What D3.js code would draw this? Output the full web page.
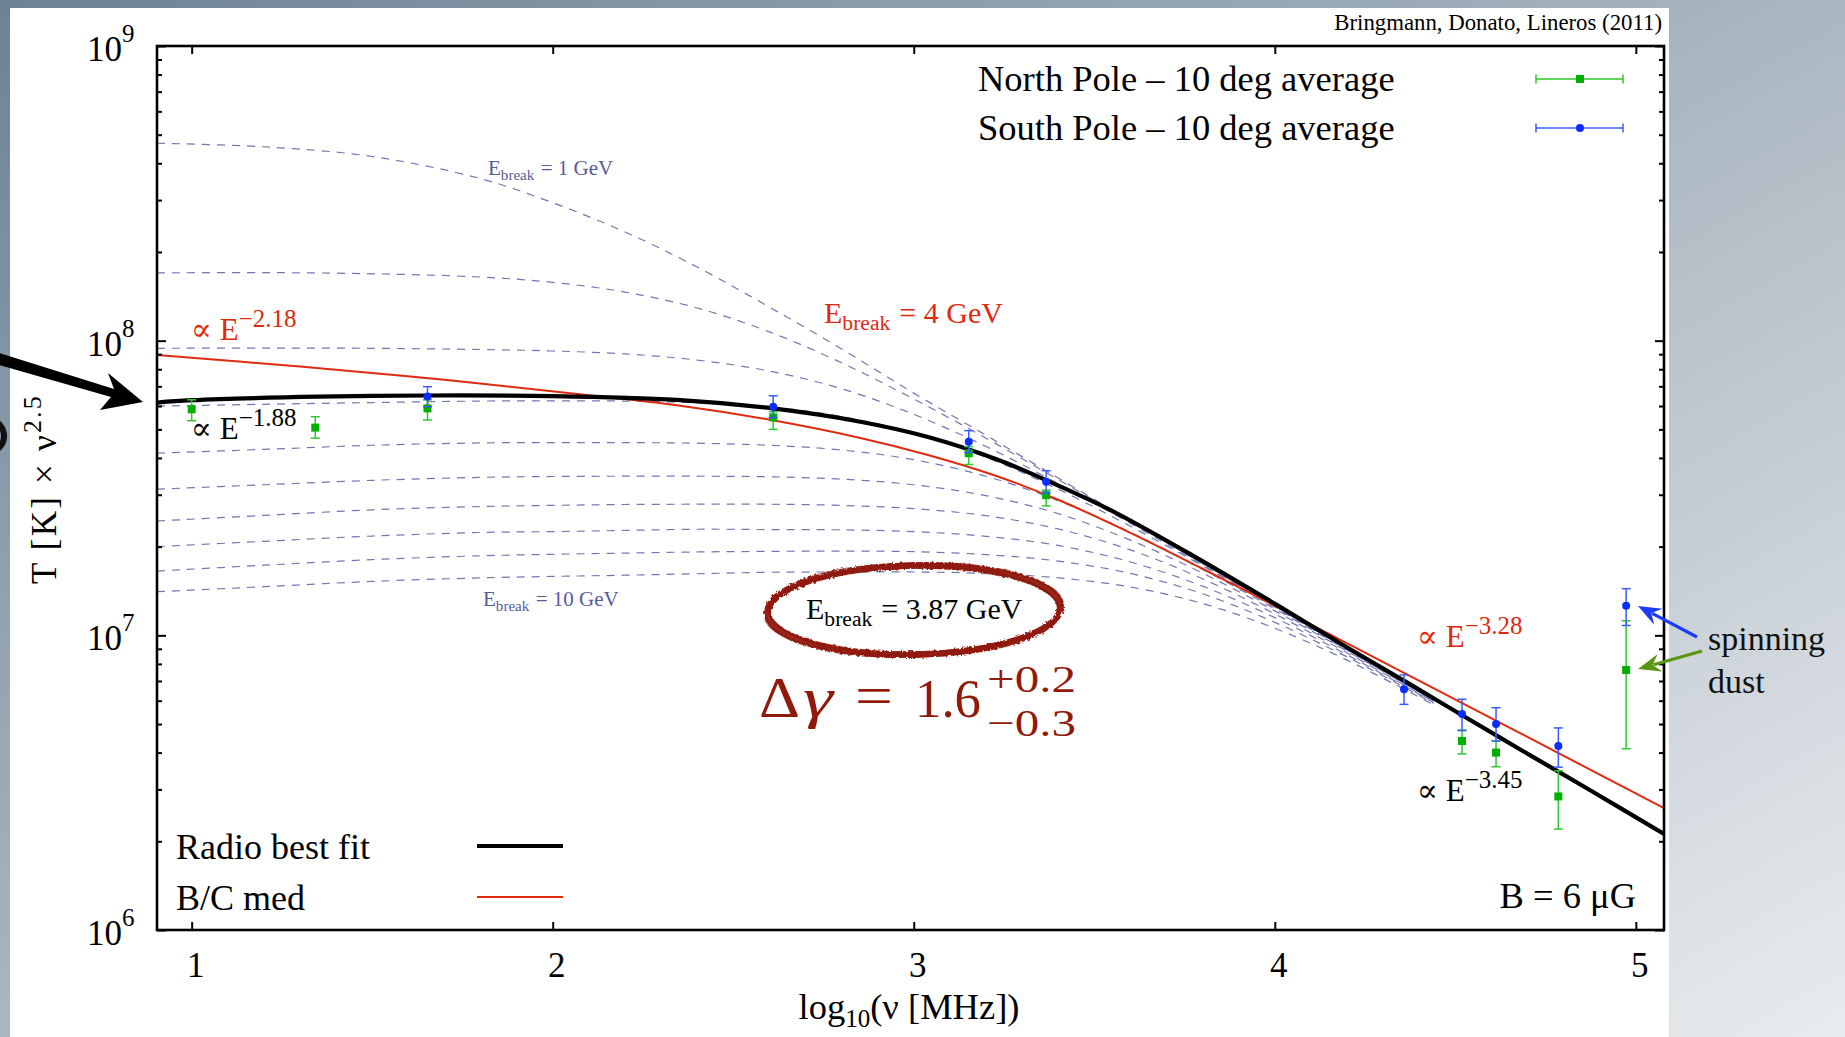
<!DOCTYPE html>
<html>
<head>
<meta charset="utf-8">
<script src="https://cdn.jsdelivr.net/npm/d3@7"></script>
<style>
  html, body { margin: 0; padding: 0; overflow: hidden; background: #fff; }
  svg text { font-family: 'Liberation Serif', 'DejaVu Serif', serif; }
</style>
</head>
<body>
<svg id="chart" width="1845" height="1037"></svg>
<script>
// ---------------- data ----------------
// Synchrotron sky temperature near the Galactic poles, T [K] x nu^2.5
const northFreqMHz = [10, 22, 45, 408, 1420, 2326, 33000, 41000, 61000, 94000];
const northT  = [5.85e7, 5.07e7, 5.89e7, 5.49e7, 4.15e7, 2.99e7, 4.38e6, 4.0e6, 2.84e6, 7.63e6];
const northLo = [5.35e7, 4.67e7, 5.38e7, 5.0e7, 3.80e7, 2.75e7, 3.96e6, 3.58e6, 2.20e6, 4.12e6];
const northHi = [6.30e7, 5.52e7, 6.30e7, 5.74e7, 4.37e7, 3.11e7, 4.77e6, 4.38e6, 3.47e6, 1.12e7];

const southFreqMHz = [45, 408, 1420, 2326, 22800, 33000, 41000, 61000, 94000];
const southT  = [6.46e7, 5.97e7, 4.54e7, 3.32e7, 6.56e6, 5.41e6, 5.0e6, 4.21e6, 1.26e7];
const southLo = [5.97e7, 5.48e7, 4.17e7, 3.04e7, 5.83e6, 4.75e6, 4.38e6, 3.57e6, 1.08e7];
const southHi = [6.98e7, 6.50e7, 4.95e7, 3.62e7, 7.34e6, 6.07e6, 5.68e6, 4.85e6, 1.44e7];

// Radio best fit (log10 nu [MHz], log10 of T x nu^2.5)
const bestFitX    = [0.904, 1.0, 1.35, 1.65, 2.0, 2.344, 2.609, 2.852, 3.037, 3.231, 3.36, 3.545, 3.785, 4.01, 4.21, 4.38, 4.52, 4.71, 4.87, 5.078];
const bestFitLogT = [7.790, 7.798, 7.810, 7.814, 7.812, 7.799, 7.770, 7.725, 7.674, 7.597, 7.530, 7.425, 7.262, 7.100, 6.952, 6.830, 6.728, 6.591, 6.477, 6.326];

// B/C med propagation model
const bcMedX    = [0.904, 1.3, 1.7, 2.1, 2.344, 2.609, 2.852, 3.037, 3.231, 3.40, 3.6, 3.8, 4.01, 4.21, 5.078];
const bcMedLogT = [7.951, 7.912, 7.867, 7.815, 7.781, 7.730, 7.670, 7.613, 7.540, 7.460, 7.348, 7.226, 7.094, 6.967, 6.414];

// Family of spectra for E_break = 1 ... 10 GeV
const ebreakGeV = [1, 2, 3, 4, 5, 6, 7, 8, 9, 10];
const ebreakX = [0.904, 1.2, 1.5, 1.8, 2.0, 2.2, 2.4, 2.6, 2.8, 3.0, 3.2, 3.4, 3.6, 3.8, 4.0, 4.2, 4.44];
const ebreakLogT = [
  [8.670, 8.658, 8.625, 8.550, 8.468, 8.369, 8.250, 8.114, 7.972, 7.822, 7.679, 7.534, 7.389, 7.245, 7.100, 6.955, 6.781],
  [8.230, 8.231, 8.227, 8.216, 8.198, 8.165, 8.111, 8.030, 7.925, 7.802, 7.669, 7.529, 7.387, 7.244, 7.099, 6.954, 6.781],
  [7.974, 7.975, 7.974, 7.970, 7.965, 7.955, 7.934, 7.897, 7.837, 7.750, 7.641, 7.515, 7.380, 7.240, 7.098, 6.954, 6.781],
  [7.778, 7.784, 7.790, 7.795, 7.796, 7.795, 7.789, 7.775, 7.743, 7.686, 7.604, 7.496, 7.370, 7.236, 7.095, 6.953, 6.781],
  [7.618, 7.631, 7.645, 7.653, 7.654, 7.654, 7.652, 7.645, 7.629, 7.596, 7.540, 7.457, 7.350, 7.224, 7.090, 6.950, 6.780],
  [7.496, 7.511, 7.526, 7.536, 7.539, 7.540, 7.540, 7.538, 7.530, 7.511, 7.474, 7.413, 7.323, 7.211, 7.083, 6.947, 6.778],
  [7.388, 7.407, 7.426, 7.437, 7.441, 7.444, 7.445, 7.445, 7.441, 7.430, 7.406, 7.361, 7.290, 7.192, 7.073, 6.941, 6.775],
  [7.301, 7.319, 7.337, 7.349, 7.352, 7.356, 7.360, 7.359, 7.358, 7.352, 7.336, 7.305, 7.249, 7.167, 7.060, 6.934, 6.772],
  [7.218, 7.238, 7.257, 7.270, 7.275, 7.279, 7.283, 7.285, 7.286, 7.284, 7.274, 7.252, 7.210, 7.141, 7.044, 6.927, 6.769],
  [7.148, 7.165, 7.183, 7.195, 7.200, 7.204, 7.209, 7.214, 7.215, 7.215, 7.210, 7.195, 7.164, 7.108, 7.024, 6.916, 6.764]
];

const xTickValues = [1, 2, 3, 4, 5];
const yDecades = [6, 7, 8, 9];
const yMinorMultipliers = [2, 3, 4, 5, 6, 7, 8, 9];

// ---------------- layout ----------------
const W = 1845, H = 1037;
const plot = { left: 157, top: 46, right: 1664, bottom: 930 };
const SERIF = "'Liberation Serif', 'DejaVu Serif', serif";
const RED = "#df2a10", DARKRED = "#901a0a", DASH = "#5d5ea2";
const GREEN = "#00b000", GREEN_BAR = "#2fc72f", BLUE = "#0b2cff", BLUE_BAR = "#3a5cff";

const x = d3.scaleLinear().domain([0.904, 5.078]).range([plot.left, plot.right]);
const y = d3.scaleLog().domain([1e6, 1e9]).range([plot.bottom, plot.top]);

const svg = d3.select("#chart");
const defs = svg.append("defs");

// slide background
const bg = defs.append("linearGradient").attr("id", "slideBg")
  .attr("x1", 0).attr("y1", 0).attr("x2", 1).attr("y2", 1);
bg.append("stop").attr("offset", 0).attr("stop-color", "#6c8295");
bg.append("stop").attr("offset", 1).attr("stop-color", "#e9ecee");
svg.append("rect").attr("width", W).attr("height", H).attr("fill", "url(#slideBg)");
svg.append("rect").attr("x", 10).attr("y", 8).attr("width", 1659).attr("height", H - 8).attr("fill", "#fff");

defs.append("clipPath").attr("id", "plotClip").append("rect")
  .attr("x", plot.left).attr("y", plot.top)
  .attr("width", plot.right - plot.left).attr("height", plot.bottom - plot.top);

// rough brush texture for the hand-drawn ring
const rough = defs.append("filter").attr("id", "brush").attr("x", "-10%").attr("y", "-30%").attr("width", "120%").attr("height", "160%");
rough.append("feTurbulence").attr("type", "fractalNoise").attr("baseFrequency", 0.35).attr("numOctaves", 2).attr("seed", 4).attr("result", "noise");
rough.append("feDisplacementMap").attr("in", "SourceGraphic").attr("in2", "noise").attr("scale", 4);

const toPts = (xs, logs) => xs.map((v, i) => [v, Math.pow(10, logs[i])]);
const line = d3.line().x(d => x(d[0])).y(d => y(d[1])).curve(d3.curveCatmullRom.alpha(0.5));

// ---------------- curves ----------------
const curves = svg.append("g").attr("clip-path", "url(#plotClip)");

curves.append("g").selectAll("path")
  .data(ebreakLogT.map(logs => toPts(ebreakX, logs)))
  .join("path")
  .attr("d", line)
  .attr("fill", "none")
  .attr("stroke", DASH)
  .attr("stroke-width", 1.2)
  .attr("stroke-opacity", 0.85)
  .attr("stroke-dasharray", "8,7");

curves.append("path")
  .datum(toPts(bcMedX, bcMedLogT))
  .attr("d", line).attr("fill", "none").attr("stroke", RED).attr("stroke-width", 2);

curves.append("path")
  .datum(toPts(bestFitX, bestFitLogT))
  .attr("d", line).attr("fill", "none").attr("stroke", "#000").attr("stroke-width", 4.2);

// ---------------- data points ----------------
function errorSeries(freq, val, lo, hi, barColor, markColor, shape) {
  const g = svg.append("g");
  const rows = freq.map((f, i) => ({ x: Math.log10(f), v: val[i], lo: lo[i], hi: hi[i] }));
  const bars = g.selectAll("g").data(rows).join("g");
  bars.append("line")
    .attr("x1", d => x(d.x)).attr("x2", d => x(d.x))
    .attr("y1", d => y(d.lo)).attr("y2", d => y(d.hi))
    .attr("stroke", barColor).attr("stroke-width", 1.5);
  ["lo", "hi"].forEach(k => {
    bars.append("line")
      .attr("x1", d => x(d.x) - 4.5).attr("x2", d => x(d.x) + 4.5)
      .attr("y1", d => y(d[k])).attr("y2", d => y(d[k]))
      .attr("stroke", barColor).attr("stroke-width", 1.5);
  });
  if (shape === "square") {
    bars.append("rect")
      .attr("x", d => x(d.x) - 4).attr("y", d => y(d.v) - 4)
      .attr("width", 8).attr("height", 8).attr("fill", markColor);
  } else {
    bars.append("circle")
      .attr("cx", d => x(d.x)).attr("cy", d => y(d.v)).attr("r", 4).attr("fill", markColor);
  }
}
errorSeries(northFreqMHz, northT, northLo, northHi, GREEN_BAR, GREEN, "square");
errorSeries(southFreqMHz, southT, southLo, southHi, BLUE_BAR, BLUE, "circle");

// ---------------- axes & frame ----------------
const minorVals = [];
yDecades.slice(0, -1).forEach(e => yMinorMultipliers.forEach(m => minorVals.push(m * Math.pow(10, e))));
const majorVals = yDecades.map(e => Math.pow(10, e));

function styleAxis(g) {
  g.select(".domain").remove();
  g.selectAll(".tick line").attr("stroke", "#000").attr("stroke-width", 2);
}
svg.append("g").attr("transform", `translate(${plot.left},0)`)
  .call(d3.axisLeft(y).tickValues(majorVals).tickSize(-9).tickFormat("")).call(styleAxis);
svg.append("g").attr("transform", `translate(${plot.left},0)`)
  .call(d3.axisLeft(y).tickValues(minorVals).tickSize(-5).tickFormat("")).call(styleAxis);
svg.append("g").attr("transform", `translate(${plot.right},0)`)
  .call(d3.axisRight(y).tickValues(majorVals).tickSize(-9).tickFormat("")).call(styleAxis);
svg.append("g").attr("transform", `translate(${plot.right},0)`)
  .call(d3.axisRight(y).tickValues(minorVals).tickSize(-5).tickFormat("")).call(styleAxis);
svg.append("g").attr("transform", `translate(0,${plot.top})`)
  .call(d3.axisTop(x).tickValues(xTickValues).tickSize(-8).tickFormat("")).call(styleAxis);
const xAxis = svg.append("g").attr("transform", `translate(0,${plot.bottom})`)
  .call(d3.axisBottom(x).tickValues(xTickValues).tickSize(-8).tickPadding(22).tickFormat(d3.format("d")))
  .call(styleAxis);
xAxis.selectAll(".tick text")
  .attr("font-family", SERIF).attr("font-size", 35).attr("fill", "#000").attr("dx", 3.5);

svg.append("rect")
  .attr("x", plot.left).attr("y", plot.top)
  .attr("width", plot.right - plot.left).attr("height", plot.bottom - plot.top)
  .attr("fill", "none").attr("stroke", "#000").attr("stroke-width", 2.6);

// y tick labels 10^n
const yLab = svg.append("g").selectAll("text").data(yDecades).join("text")
  .attr("x", 87).attr("y", d => y(Math.pow(10, d)) + 15)
  .attr("font-size", 35).attr("fill", "#000");
yLab.append("tspan").text("10");
yLab.append("tspan").attr("font-size", 25).attr("dy", -19).text(d => d);

// axis titles
const xt = svg.append("text").attr("x", 909).attr("y", 1019).attr("text-anchor", "middle").attr("font-size", 36.5);
xt.append("tspan").text("log");
xt.append("tspan").attr("font-size", 25).attr("dy", 8).text("10");
xt.append("tspan").attr("dy", -8).text("(ν [MHz])");

const yt = svg.append("text").attr("transform", "translate(56,489) rotate(-90)")
  .attr("text-anchor", "middle").attr("font-size", 35).attr("letter-spacing", 2.2);
yt.append("tspan").text("T [K] × ν");
yt.append("tspan").attr("font-size", 26).attr("dy", -15).text("2.5");

// ---------------- annotations ----------------
svg.append("text").attr("x", 1662).attr("y", 30).attr("text-anchor", "end")
  .attr("font-size", 22.8).text("Bringmann, Donato, Lineros (2011)");

// legend, top right
const dataLegend = [
  { name: "North Pole – 10 deg average", bar: GREEN_BAR, mark: GREEN, shape: "square", y: 79 },
  { name: "South Pole – 10 deg average", bar: BLUE_BAR, mark: BLUE, shape: "circle", y: 128 }
];
dataLegend.forEach(d => {
  svg.append("text").attr("x", 978).attr("y", d.y + 12).attr("font-size", 36.5).text(d.name);
  svg.append("line").attr("x1", 1536).attr("x2", 1623).attr("y1", d.y).attr("y2", d.y)
    .attr("stroke", d.bar).attr("stroke-width", 1.5);
  [1536, 1623].forEach(xx => svg.append("line").attr("x1", xx).attr("x2", xx)
    .attr("y1", d.y - 4.5).attr("y2", d.y + 4.5).attr("stroke", d.bar).attr("stroke-width", 1.5));
  if (d.shape === "square") svg.append("rect").attr("x", 1576).attr("y", d.y - 4).attr("width", 8).attr("height", 8).attr("fill", d.mark);
  else svg.append("circle").attr("cx", 1580).attr("cy", d.y).attr("r", 4).attr("fill", d.mark);
});

// legend, bottom left
const lineLegend = [
  { name: "Radio best fit", color: "#000", width: 4.2, y: 846 },
  { name: "B/C med", color: RED, width: 2, y: 897 }
];
lineLegend.forEach(d => {
  svg.append("text").attr("x", 176).attr("y", d.y + 13).attr("font-size", 36).text(d.name);
  svg.append("line").attr("x1", 477).attr("x2", 563).attr("y1", d.y).attr("y2", d.y)
    .attr("stroke", d.color).attr("stroke-width", d.width);
});

svg.append("text").attr("x", 1636).attr("y", 908).attr("text-anchor", "end").attr("font-size", 36.5).text("B = 6 μG");

// spectral-index labels
function powerLabel(px, py, exp, color) {
  const t = svg.append("text").attr("x", px).attr("y", py).attr("font-size", 31).attr("fill", color);
  t.append("tspan").text("∝ E");
  t.append("tspan").attr("font-size", 25).attr("dy", -13).text("−" + exp);
}
powerLabel(191, 340, "2.18", RED);
powerLabel(191, 439, "1.88", "#000");
powerLabel(1417, 647, "3.28", RED);
powerLabel(1417, 801, "3.45", "#000");

function ebreakLabel(px, py, size, color, rest) {
  const t = svg.append("text").attr("x", px).attr("y", py).attr("font-size", size).attr("fill", color);
  t.append("tspan").text("E");
  t.append("tspan").attr("font-size", size * 0.72).attr("dy", size * 0.24).text("break");
  t.append("tspan").attr("dy", -size * 0.24).attr("dx", size * 0.05).text(" = " + rest);
}
ebreakLabel(488, 175, 21, "#585a9c", ebreakGeV[0] + " GeV");
ebreakLabel(483, 606, 21, "#585a9c", ebreakGeV[9] + " GeV");
ebreakLabel(824, 323, 30, RED, "4 GeV");
ebreakLabel(806, 619, 30, "#000", "3.87 GeV");

// hand-drawn ring around the fitted break energy
const ring = svg.append("g").attr("filter", "url(#brush)").attr("fill", "none").attr("stroke", DARKRED);
const ringStrokes = [
  { rx: 146.5, ry: 44.5, rot: -1.2, w: 6.5, o: 0.95 },
  { rx: 144.5, ry: 42.5, rot: -0.6, w: 2.5, o: 0.8 },
  { rx: 148.5, ry: 46.5, rot: -1.8, w: 2.4, o: 0.75 },
  { rx: 145.5, ry: 46.0, rot: 0.4, w: 1.8, o: 0.7 },
  { rx: 149.5, ry: 44.0, rot: -2.4, w: 1.4, o: 0.6 },
  { rx: 143.5, ry: 44.0, rot: -1.0, w: 1.4, o: 0.6 }
];
ringStrokes.forEach(s => ring.append("ellipse")
  .attr("cx", 914).attr("cy", 610).attr("rx", s.rx).attr("ry", s.ry)
  .attr("transform", `rotate(${s.rot} 914 610)`)
  .attr("stroke-width", s.w).attr("stroke-opacity", s.o));

// Delta gamma result
const dg = svg.append("g").attr("fill", DARKRED);
dg.append("text").attr("x", 759).attr("y", 717).attr("font-size", 58)
  .attr("textLength", 41).attr("lengthAdjust", "spacingAndGlyphs").text("Δ");
dg.append("text").attr("x", 803).attr("y", 717).attr("font-size", 58).attr("font-style", "italic")
  .attr("textLength", 30).attr("lengthAdjust", "spacingAndGlyphs").text("γ");
dg.append("text").attr("x", 855).attr("y", 715).attr("font-size", 56)
  .attr("textLength", 38).attr("lengthAdjust", "spacingAndGlyphs").text("=");
dg.append("text").attr("x", 915).attr("y", 717).attr("font-size", 55)
  .attr("textLength", 66).attr("lengthAdjust", "spacingAndGlyphs").text("1.6");
dg.append("text").attr("x", 987).attr("y", 692).attr("font-size", 38.5)
  .attr("textLength", 89).attr("lengthAdjust", "spacingAndGlyphs").text("+0.2");
dg.append("text").attr("x", 987).attr("y", 736).attr("font-size", 38.5)
  .attr("textLength", 89).attr("lengthAdjust", "spacingAndGlyphs").text("−0.3");

// slide overlays: pointer arrow, fragment of a cut-off glyph, callouts
svg.append("polygon")
  .attr("points", "-4,352 114,389 108,373 143,402 100,410 111,397 -4,364")
  .attr("fill", "#000");
svg.append("ellipse").attr("cx", -9).attr("cy", 436).attr("rx", 13).attr("ry", 15)
  .attr("fill", "none").attr("stroke", "#111").attr("stroke-width", 6);

function callout(x1, y1, x2, y2, color) {
  const a = Math.atan2(y2 - y1, x2 - x1);
  const hl = 20, hw = 9;
  const bx = x2 - hl * Math.cos(a), by = y2 - hl * Math.sin(a);
  svg.append("line").attr("x1", x1).attr("y1", y1).attr("x2", bx + 4 * Math.cos(a)).attr("y2", by + 4 * Math.sin(a))
    .attr("stroke", color).attr("stroke-width", 3.2);
  const px = -Math.sin(a), py = Math.cos(a);
  svg.append("polygon").attr("points", [
    [x2, y2],
    [bx + hw * px - 3 * Math.cos(a), by + hw * py - 3 * Math.sin(a)],
    [bx + 5 * Math.cos(a), by + 5 * Math.sin(a)],
    [bx - hw * px - 3 * Math.cos(a), by - hw * py - 3 * Math.sin(a)]
  ].map(p => p.join(",")).join(" ")).attr("fill", color);
}
callout(1697, 637, 1638, 606, "#1a3cf5");
callout(1702, 651, 1638, 669, "#5a9612");

const sd = svg.append("g").attr("font-family", "Lato, 'Open Sans', sans-serif").attr("font-size", 34).attr("fill", "#111");
sd.append("text").attr("x", 1708).attr("y", 650).text("spinning");
sd.append("text").attr("x", 1708).attr("y", 693).text("dust");
</script>
</body>
</html>
